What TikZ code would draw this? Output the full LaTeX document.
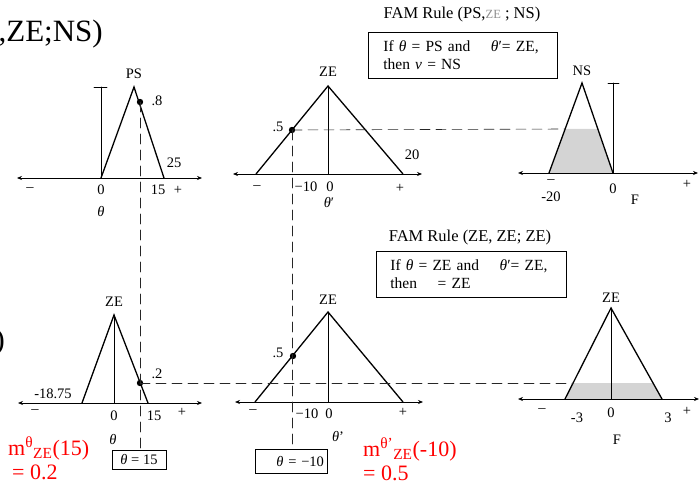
\documentclass[tikz,border=0pt]{standalone}
\usepackage{fontspec}
\setmainfont{Liberation Serif}
\usetikzlibrary{arrows.meta}

\begin{document}
\begin{tikzpicture}[x=1pt,y=-1pt,>={Stealth[length=5pt,width=4pt]},line cap=round,
  axis/.style={<->,line width=0.7pt},
  memb/.style={line width=1.3pt,line join=miter},
  guide/.style={line width=0.6pt},
  proj/.style={dash pattern=on 10pt off 6pt,line width=0.6pt,black!85},
  cut/.style={fill=black!17},
  lbl/.style={font=\fontsize{14.5}{17}\selectfont,inner sep=0pt},
  rulebox/.style={draw,line width=0.7pt,align=left,font=\fontsize{15.5}{18.5}\selectfont,
    anchor=north west,inner ysep=0pt,minimum height=46pt},
  mval/.style={red,font=\fontsize{22}{24}\selectfont,inner sep=0pt,anchor=base west}]
\useasboundingbox (0,0) rectangle (699,484);
\node[font=\fontsize{31}{35}\selectfont,inner sep=0pt,anchor=base east] (head) at (103,42) {,ZE;NS)};
\node[font=\fontsize{30}{34}\selectfont,inner sep=0pt,anchor=east] (paren) at (5,342) {)};
% top row
\coordinate (ps8) at (140,102);
\coordinate (ze5) at (292,130);
\coordinate (cut1) at (565,129);
\fill[cut] (565,129) -- (598,129) -- (613,173) -- (549,173) -- cycle;
\draw[axis] (17,178) -- (202,178);
\draw[guide] (101,178) -- (101,87) (94,87) -- (107,87);
\draw[memb] (101,178) -- (134,87) -- (164,178);
\draw[axis] (233,174) -- (422,174);
\draw[guide] (328,174) -- (328,86);
\draw[memb] (256,174) -- (328,86) -- (403,174);
\draw[axis] (518,173) -- (698,173);
\draw[guide] (613,173) -- (613,83) (608,83) -- (619,83);
\draw[memb] (549,173) -- (582,83) -- (613,173);
\fill (ps8) circle (3.2pt);
\fill (ze5) circle (3.2pt);
\node[lbl] (psT) at (134,74) {PS};
\node[lbl] (p8) at (157,101) {.8};
\node[lbl] (p25) at (174,163) {25};
\node[lbl] (m1) at (30,190) {–};
\node[lbl] (z1) at (101,190) {0};
\node[lbl] (f1) at (158,190) {15};
\node[lbl] (pl1) at (178,190) {+};
\node[lbl] (th1) at (101,212) {\textit{θ}};
\node[lbl] (zeT) at (328,72) {ZE};
\node[lbl] (p5) at (278,127) {.5};
\node[lbl] (p20) at (412,155) {20};
\node[lbl] (m2) at (257,188) {–};
\node[lbl] (t2) at (306,187) {−10};
\node[lbl] (z2) at (330,187) {0};
\node[lbl] (pl2) at (400,188) {+};
\node[lbl] (th2) at (329,203) {\textit{θ}′};
\node[lbl] (nsT) at (582,71) {NS};
\node[lbl] (m3) at (551,182) {–};
\node[lbl] (t3) at (551,197) {-20};
\node[lbl] (z3) at (613,189) {0};
\node[lbl] (pl3) at (687,184) {+};
\node[lbl] (F1) at (635,200) {F};
\node[font=\fontsize{16.5}{19}\selectfont,inner sep=0pt] (fam1) at (462,15)
  {FAM Rule (PS,{\color{black!45}\fontsize{12.5}{14}\selectfont ZE} ; NS)};
\node[rulebox,text width=159pt,inner xsep=15pt] (rule1) at (368,32)
  {If \textit{θ} = PS and \quad\textit{θ}′= ZE,\\ then \textit{ν} = NS};
% bottom row
\coordinate (ze2) at (140,383);
\coordinate (cut2) at (573,383);
\fill[cut] (573,383) -- (653,383) -- (662,399) -- (565,399) -- cycle;
\draw[axis] (18,403) -- (202,403);
\draw[guide] (114,403) -- (114,315);
\draw[memb] (82,403) -- (114,315) -- (148,403);
\draw[axis] (235,402) -- (423,402);
\draw[guide] (328,402) -- (328,312);
\draw[memb] (255,402) -- (328,312) -- (403,402);
\draw[axis] (518,399) -- (699,399);
\draw[guide] (611,399) -- (611,308);
\draw[memb] (565,399) -- (611,308) -- (662,399);
\coordinate (zeb5) at (293,356);
\fill (ze2) circle (3.2pt);
\fill (zeb5) circle (3.2pt);
\node[lbl] (zeA) at (114,302) {ZE};
\node[lbl] (p2) at (157,374) {.2};
\node[lbl] (n18) at (53,394) {-18.75};
\node[lbl] (m4) at (35,412) {–};
\node[lbl] (z4) at (114,416) {0};
\node[lbl] (f4) at (154,416) {15};
\node[lbl] (pl4) at (182,412) {+};
\node[lbl] (th4) at (113,439) {\textit{θ}};
\node[lbl] (zeB) at (328,300) {ZE};
\node[lbl] (q5) at (278,353) {.5};
\node[lbl] (m5) at (253,412) {–};
\node[lbl] (t5) at (307,414) {−10};
\node[lbl] (z5) at (329,414) {0};
\node[lbl] (pl5) at (403,412) {+};
\node[lbl] (th5) at (338,436) {\textit{θ}'};
\node[lbl] (zeC) at (611,298) {ZE};
\node[lbl] (m6) at (542,411) {–};
\node[lbl] (t6) at (577,418) {-3};
\node[lbl] (z6) at (611,413) {0};
\node[lbl] (r6) at (668,418) {3};
\node[lbl] (pl6) at (687,411) {+};
\node[lbl] (F2) at (617,440) {F};
\node[font=\fontsize{16.5}{19}\selectfont,inner sep=0pt] (fam2) at (470,238) {FAM Rule (ZE, ZE; ZE)};
\node[rulebox,text width=162pt,inner xsep=14pt] (rule2) at (376,251)
  {If \textit{θ} = ZE and \quad\textit{θ}′= ZE,\\ then \quad = ZE};
\node[draw,lbl,line width=0.7pt,minimum width=54pt,minimum height=19pt] (box15) at (139,459.5) {\textit{θ} = 15};
\node[draw,lbl,line width=0.7pt,text width=66pt,align=right,inner xsep=3pt,minimum height=24pt] (boxm10) at (291,461) {\textit{θ} = −10};
% projections
\draw[proj] (ps8) -- (ps8 |- box15.north);
\draw[proj] (ze5) -- (cut1);
\draw[proj] (ze5) -- (ze5 |- boxm10.north);
\draw[proj] (ze2) -- (cut2);
\node[mval] (mu1) at (8,455) {m\textsuperscript{θ}\textsubscript{ZE}(15)};
\node[mval] (mu1b) at (12,479) {= 0.2};
\node[mval] (mu2) at (363,456) {m\textsuperscript{θ’}\textsubscript{ZE}(-10)};
\node[mval] (mu2b) at (363,480) {= 0.5};
\end{tikzpicture}
\end{document}
